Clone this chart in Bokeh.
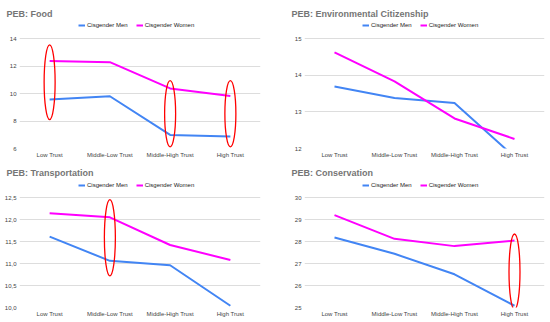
from bokeh.plotting import figure
from bokeh.models import Range1d, FactorRange, FixedTicker, Legend, LegendItem
from bokeh.layouts import column, row
from bokeh.embed import file_html
from bokeh.resources import INLINE

categories = ["Low Trust", "Middle-Low Trust", "Middle-High Trust", "High Trust"]
series_names = ["Cisgender Men", "Cisgender Women"]

food_title = "PEB: Food"
food_men = [9.57, 9.80, 6.99, 6.87]
food_women = [12.36, 12.28, 10.37, 9.81]
food_ticks = [6, 8, 10, 12, 14]
food_tick_labels = ["6", "8", "10", "12", "14"]
food_circled = ["Low Trust", "Middle-High Trust", "High Trust"]
food_circle_low = [8.10, 6.12, 6.12]
food_circle_high = [13.54, 10.94, 10.94]

env_title = "PEB: Environmental Citizenship"
env_men = [13.69, 13.38, 13.24, 11.77]
env_women = [14.62, 13.83, 12.82, 12.26]
env_ticks = [12, 13, 14, 15]
env_tick_labels = ["12", "13", "14", "15"]
env_circled = []
env_circle_low = []
env_circle_high = []

trans_title = "PEB: Transportation"
trans_men = [11.61, 11.06, 10.96, 10.04]
trans_women = [12.14, 12.05, 11.42, 11.08]
trans_ticks = [10.0, 10.5, 11.0, 11.5, 12.0, 12.5]
trans_tick_labels = ["10,0", "10,5", "11,0", "11,5", "12,0", "12,5"]
trans_circled = ["Middle-Low Trust"]
trans_circle_low = [10.72]
trans_circle_high = [12.45]

cons_title = "PEB: Conservation"
cons_men = [28.18, 27.44, 26.51, 25.08]
cons_women = [29.20, 28.12, 27.79, 28.04]
cons_ticks = [25, 26, 27, 28, 29, 30]
cons_tick_labels = ["25", "26", "27", "28", "29", "30"]
cons_circled = ["High Trust"]
cons_circle_low = [24.91]
cons_circle_high = [28.34]

MEN_COLOR = "#4285f4"
WOMEN_COLOR = "#ff00ff"
FONT = "Liberation Sans"

PLOT_PX = 110     # pixel height of the tick span
HEADER_PX = 20    # room kept inside the frame for the legend


def make_panel(title, men, women, ticks, tick_labels, circled, c_lo, c_hi,
               left, right, top, bottom, legend_pos):
    span = ticks[-1] - ticks[0]
    y_end = ticks[-1] + span * HEADER_PX / PLOT_PX
    p = figure(width=275, height=161,
               x_range=FactorRange(*categories, range_padding=0),
               y_range=Range1d(ticks[0], y_end),
               output_backend="svg", toolbar_location=None,
               min_border_left=left, min_border_right=right,
               min_border_top=top, min_border_bottom=bottom)
    p.outline_line_color = None
    p.background_fill_color = "white"
    p.border_fill_color = "white"

    p.title.text = title
    p.title.align = "left"
    p.title.offset = -13
    p.title.standoff = 0
    p.title.text_font = FONT
    p.title.text_font_size = "9px"
    p.title.text_font_style = "bold"
    p.title.text_color = "#757575"

    p.xgrid.grid_line_color = None
    p.ygrid.grid_line_color = "#dddddd"
    p.ygrid.grid_line_width = 1

    p.yaxis.ticker = FixedTicker(ticks=ticks)
    p.yaxis.major_label_overrides = dict(zip(ticks, tick_labels))
    for ax in (p.xaxis, p.yaxis):
        ax.axis_line_color = None
        ax.major_tick_line_color = None
        ax.minor_tick_line_color = None
        ax.major_tick_out = 0
        ax.major_tick_in = 0
        ax.minor_tick_out = 0
        ax.major_label_text_font_size = "6px"
        ax.major_label_text_font = FONT
        ax.major_label_text_color = "#444444"
    p.yaxis.major_label_standoff = 3
    p.xaxis.major_label_standoff = 3

    r_men = p.line(categories, men, line_color=MEN_COLOR, line_width=2, line_join="round")
    r_women = p.line(categories, women, line_color=WOMEN_COLOR, line_width=2, line_join="round")

    if circled:
        centers = [(a + b) / 2 for a, b in zip(c_lo, c_hi)]
        heights = [b - a for a, b in zip(c_lo, c_hi)]
        p.ellipse(x=circled, y=centers, width=11, height=heights,
                  width_units="screen", height_units="data",
                  fill_alpha=0, line_color="#ff0000", line_width=1.3)

    legend = Legend(items=[LegendItem(label=series_names[0], renderers=[r_men]),
                           LegendItem(label=series_names[1], renderers=[r_women])],
                    orientation="horizontal", location=legend_pos,
                    border_line_color=None, background_fill_alpha=0,
                    padding=0, margin=0, spacing=8, label_standoff=2,
                    glyph_width=7, glyph_height=6, label_height=6,
                    label_text_font_size="6px", label_text_font=FONT,
                    label_text_color="#222222")
    p.add_layout(legend)
    return p


p1 = make_panel(food_title, food_men, food_women, food_ticks, food_tick_labels,
                food_circled, food_circle_low, food_circle_high,
                19, 15, 18, 13, (59, 120))
p2 = make_panel(env_title, env_men, env_women, env_ticks, env_tick_labels,
                env_circled, env_circle_low, env_circle_high,
                29, 6, 18, 13, (58, 120))
p3 = make_panel(trans_title, trans_men, trans_women, trans_ticks, trans_tick_labels,
                trans_circled, trans_circle_low, trans_circle_high,
                19, 15, 16, 15, (59, 119))
p4 = make_panel(cons_title, cons_men, cons_women, cons_ticks, cons_tick_labels,
                cons_circled, cons_circle_low, cons_circle_high,
                29, 6, 16, 15, (58, 119))

layout = column(row(p1, p2), row(p3, p4))
open("out.html", "w").write(file_html(layout, INLINE))
